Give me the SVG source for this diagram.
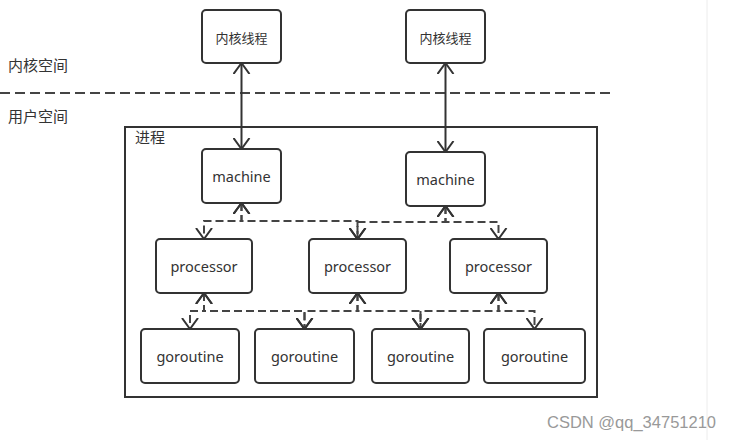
<svg xmlns="http://www.w3.org/2000/svg" width="731" height="440" viewBox="0 0 731 440">
<defs>
<marker id="arr" viewBox="0 0 12 18" refX="11" refY="9" markerWidth="12" markerHeight="18" markerUnits="userSpaceOnUse" orient="auto-start-reverse">
<path d="M0,1 L11,9 L0,17" fill="none" stroke="#333" stroke-width="2" stroke-dasharray="none"/>
</marker>
<style>
.box{fill:#fff;stroke:#333;stroke-width:2}
.t{font-family:"Noto Sans","Noto Sans CJK SC",sans-serif;font-size:14.5px;fill:#333;text-anchor:middle;dominant-baseline:central}
.c{font-family:"Noto Sans CJK SC",sans-serif;font-size:13px;fill:#333;text-anchor:middle;dominant-baseline:central}
.lbl{font-family:"Noto Sans CJK SC",sans-serif;font-size:15px;fill:#333}
.solid{fill:none;stroke:#333;stroke-width:2;marker-start:url(#arr);marker-end:url(#arr)}
.dash{fill:none;stroke:#444;stroke-width:2;stroke-dasharray:8 4;marker-start:url(#arr);marker-end:url(#arr)}
</style>
</defs>
<rect width="731" height="440" fill="#fff"/>
<line x1="707" y1="0" x2="707" y2="440" stroke="#ececec" stroke-width="1"/>
<text class="lbl" x="8" y="71">内核空间</text>
<text class="lbl" x="8" y="122">用户空间</text>
<line x1="0" y1="93" x2="613" y2="93" stroke="#444" stroke-width="2" stroke-dasharray="10 5"/>
<g id="process">
<rect x="125" y="127" width="472" height="270" fill="none" stroke="#333" stroke-width="2"/>
<text class="lbl" x="135" y="143">进程</text>
</g>
<g id="connectors">
<path class="solid" d="M241.5,63 V149"/>
<path class="solid" d="M445.5,63 V152"/>
<path class="dash" d="M241.5,203 V221 H204 V239"/>
<path class="dash" d="M241.5,203 V221 H357.5 V239"/>
<path class="dash" d="M445.5,206 V222 H357.5 V239"/>
<path class="dash" d="M445.5,206 V222 H498.5 V239"/>
<path class="dash" d="M204,293 V311 H190 V329"/>
<path class="dash" d="M204,293 V311 H304.5 V329"/>
<path class="dash" d="M357.5,293 V311 H304.5 V329"/>
<path class="dash" d="M357.5,293 V311 H420.5 V329"/>
<path class="dash" d="M498.5,293 V311 H420.5 V329"/>
<path class="dash" d="M498.5,293 V311 H534.5 V329"/>
</g>
<g id="kthread1"><rect class="box" x="202" y="10" width="79" height="53" rx="4"/><text class="c" x="241.5" y="37">内核线程</text></g>
<g id="kthread2"><rect class="box" x="406" y="10" width="79" height="53" rx="4"/><text class="c" x="445.5" y="37">内核线程</text></g>
<g id="machine1"><rect class="box" x="202" y="149" width="79" height="54" rx="4"/><text class="t" x="241.5" y="176">machine</text></g>
<g id="machine2"><rect class="box" x="406" y="152" width="79" height="54" rx="4"/><text class="t" x="445.5" y="179">machine</text></g>
<g id="processor1"><rect class="box" x="156" y="239" width="96" height="54" rx="4"/><text class="t" x="204" y="266">processor</text></g>
<g id="processor2"><rect class="box" x="309" y="239" width="97" height="54" rx="4"/><text class="t" x="357.5" y="266">processor</text></g>
<g id="processor3"><rect class="box" x="450" y="239" width="97" height="54" rx="4"/><text class="t" x="498.5" y="266">processor</text></g>
<g id="goroutine1"><rect class="box" x="141" y="329" width="98" height="54" rx="4"/><text class="t" x="190" y="356">goroutine</text></g>
<g id="goroutine2"><rect class="box" x="255" y="329" width="99" height="54" rx="4"/><text class="t" x="304.5" y="356">goroutine</text></g>
<g id="goroutine3"><rect class="box" x="372" y="329" width="97" height="54" rx="4"/><text class="t" x="420.5" y="356">goroutine</text></g>
<g id="goroutine4"><rect class="box" x="484" y="329" width="101" height="54" rx="4"/><text class="t" x="534.5" y="356">goroutine</text></g>
<text x="547" y="428" font-family="Liberation Sans, Arial, sans-serif" font-size="16.5" fill="#999">CSDN @qq_34751210</text>
</svg>
